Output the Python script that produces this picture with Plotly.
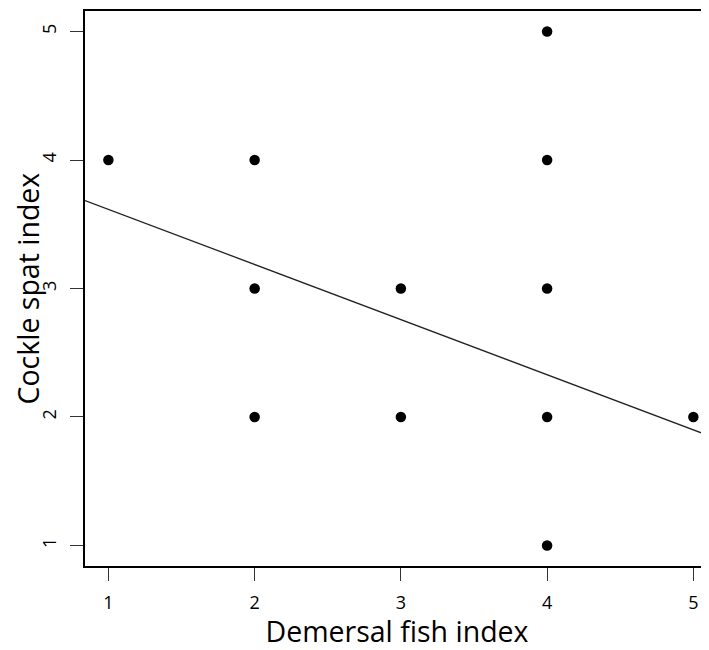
import plotly.graph_objects as go

# Data
fish_index = [1, 2, 2, 2, 3, 3, 4, 4, 4, 4, 4, 5]
cockle_index = [4, 4, 3, 2, 3, 2, 5, 4, 3, 2, 1, 2]
fit_intercept = 4.045
fit_slope = -0.429
x_ticks = [1, 2, 3, 4, 5]
y_ticks = [1, 2, 3, 4, 5]
x_title = "Demersal fish index"
y_title = "Cockle spat index"

x_range = [0.84, 5.107]
y_range = [0.84, 5.16]

FONT = "Open Sans"

fig = go.Figure()
fig.add_trace(go.Scatter(
    x=fish_index, y=cockle_index, mode="markers",
    marker=dict(color="black", size=10.5, line=dict(width=0)),
    showlegend=False, hoverinfo="x+y",
))
fig.add_trace(go.Scatter(
    x=x_range,
    y=[fit_intercept + fit_slope * v for v in x_range],
    mode="lines", line=dict(color="#222222", width=1.3),
    showlegend=False, hoverinfo="skip",
))

# page body has an 8px margin, so the figure is sized to fit the window
fig.update_layout(
    width=701, height=642,
    margin=dict(l=77.3, r=0, t=2.5, b=84.4, pad=0),
    paper_bgcolor="white", plot_bgcolor="white",
    font=dict(family=FONT, color="black", size=18),
    xaxis=dict(
        range=x_range, tickvals=x_ticks, ticktext=[str(v) for v in x_ticks],
        showgrid=False, zeroline=False,
        showline=True, linecolor="black", linewidth=1.5, mirror=True,
        ticks="outside", ticklen=13, tickwidth=1.3, tickcolor="#333333",
        tickfont=dict(size=18, family=FONT, color="black"),
        ticklabelstandoff=7,
        title=dict(text=x_title, font=dict(size=28.5, family=FONT, color="black"), standoff=4),
    ),
    yaxis=dict(
        range=y_range, tickvals=y_ticks, ticktext=[str(v) for v in y_ticks],
        showgrid=False, zeroline=False,
        showline=True, linecolor="black", linewidth=1.5, mirror=False,
        ticks="outside", ticklen=13, tickwidth=1.3, tickcolor="#333333",
        tickangle=-90,
        tickfont=dict(size=18, family=FONT, color="black"),
        ticklabelstandoff=7,
    ),
    annotations=[dict(
        text=y_title, textangle=-90, showarrow=False,
        xref="paper", yref="paper", x=0, y=0.5,
        xanchor="center", yanchor="middle", xshift=-58,
        borderpad=0,
        font=dict(size=28.5, family=FONT, color="black"),
    )],
)

fig.write_html("out.html")
